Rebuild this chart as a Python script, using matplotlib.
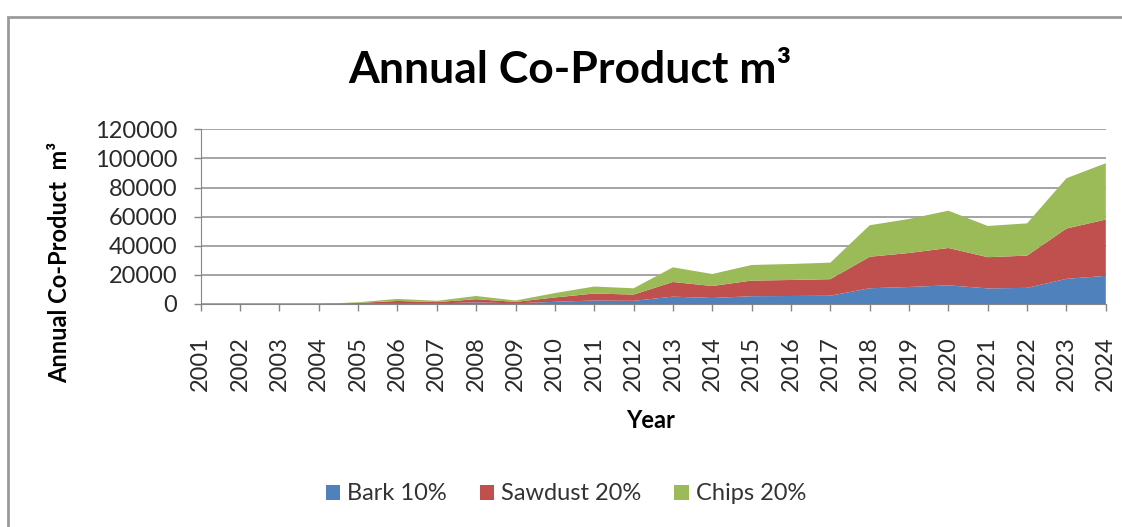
import numpy as np
import matplotlib.pyplot as plt
from matplotlib.patches import Rectangle

# Roczne ilości produktów ubocznych (m3)
lata = list(range(2001, 2025))
kora = [0, 0, 0, 0, 240, 700, 440, 1100, 480, 1500, 2400, 2160,
        5040, 4120, 5360, 5500, 5680, 10820, 11680, 12820, 10720, 11080, 17280, 19340]
trociny = [0, 0, 0, 0, 480, 1400, 880, 2200, 960, 3000, 4800, 4320,
           10080, 8240, 10720, 11000, 11360, 21640, 23360, 25640, 21440, 22160, 34560, 38680]
zrebki = [0, 0, 0, 0, 480, 1400, 880, 2200, 960, 3000, 4800, 4320,
          10080, 8240, 10720, 11000, 11360, 21640, 23360, 25640, 21440, 22160, 34560, 38680]
etykiety = ['Bark 10%', 'Sawdust 20%', 'Chips 20%']
kolory = ['#4F81BD', '#C0504D', '#9BBB59']
y_ticks = [0, 20000, 40000, 60000, 80000, 100000, 120000]

W, H = 1122, 527
plt.rcParams['font.family'] = ['Lato', 'DejaVu Sans']

fig = plt.figure(figsize=(W / 100, H / 100), dpi=100)

# ramka obszaru wykresu (widoczna tylko góra i lewa strona)
fig.patches.append(Rectangle((8 / W, -0.2), 1.2, (H - 17) / H + 0.2,
                             transform=fig.transFigure, fill=False,
                             edgecolor='#9a9a9a', linewidth=2.0))

ax = fig.add_axes([200.7 / W, (H - 304) / H, 905.1 / W, 174.7 / H])
ax.stackplot(lata, kora, trociny, zrebki, colors=kolory, labels=etykiety,
             linewidth=0)

ax.set_xlim(2001, 2024)
ax.set_ylim(0, 120000)
ax.set_yticks(y_ticks)
ax.set_yticklabels([str(v) for v in y_ticks])
ax.set_xticks(lata)
ax.set_xticklabels([str(r) for r in lata], rotation=90)
ax.tick_params(axis='both', labelsize=17, colors='#868686', labelcolor='#2a2a2a',
               length=5, width=1)
ax.tick_params(axis='x', pad=18)
ax.tick_params(axis='y', pad=12)

ax.grid(axis='y', color='#8c8c8c', linewidth=1.1)
ax.set_axisbelow(True)
for s in ['top', 'right']:
    ax.spines[s].set_visible(False)
ax.spines['left'].set_color('#868686')
ax.spines['bottom'].set_color('#868686')

fig.text(570 / W, 1 - 70 / H, 'Annual Co-Product m³', ha='center', va='center',
         fontsize=32, fontweight='bold')
fig.text(60 / W, 1 - 262 / H, 'Annual Co-Product  m³', ha='center', va='center',
         rotation=90, fontsize=17, fontweight='bold')
fig.text(651 / W, 1 - 421 / H, 'Year', ha='center', va='center',
         fontsize=17, fontweight='bold')

leg = fig.legend(loc='center', bbox_to_anchor=(566 / W, 1 - 494 / H), ncol=3,
                 frameon=False, fontsize=17, handlelength=0.6, handleheight=0.6,
                 handletextpad=0.3, columnspacing=1.4)
for t in leg.get_texts():
    t.set_color('#333333')

fig.savefig('out.png', dpi=100)
